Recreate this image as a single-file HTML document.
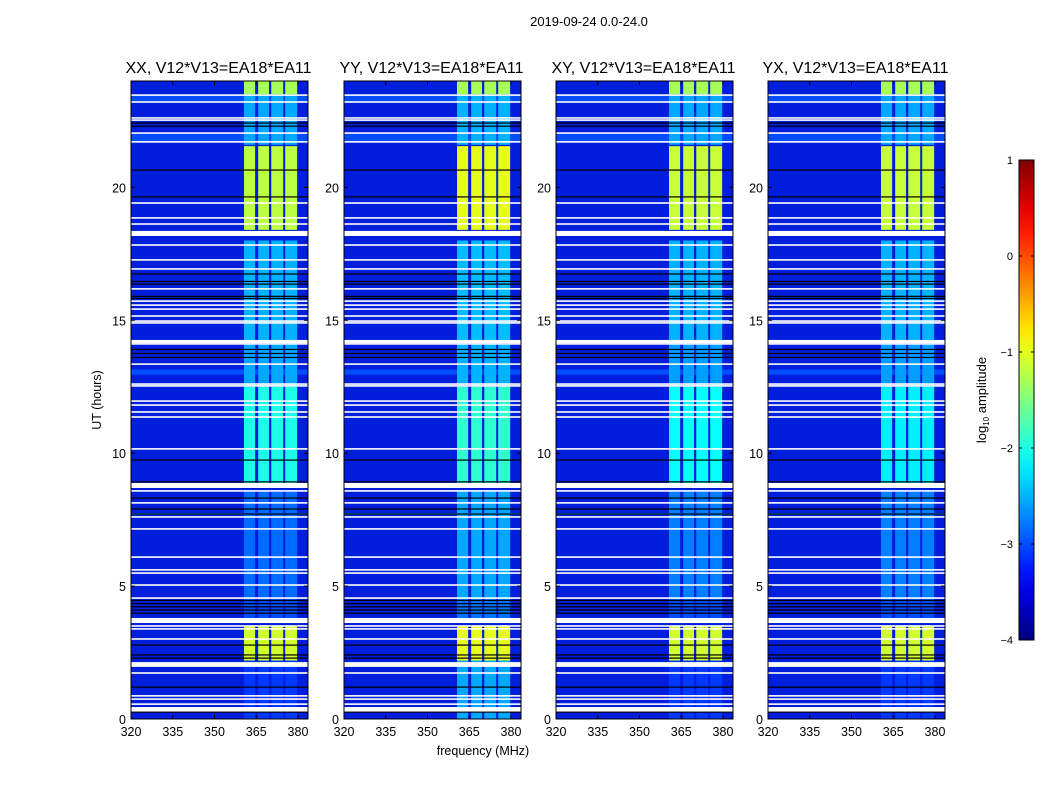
<!DOCTYPE html>
<html><head><meta charset="utf-8">
<style>
body{margin:0;background:#fff;font-family:"Liberation Sans",sans-serif;}
svg text{font-family:"Liberation Sans",sans-serif;}
</style></head>
<body>
<svg id="fig" width="1050" height="800" xmlns="http://www.w3.org/2000/svg">
<rect width="1050" height="800" fill="#fff"/>
<text x="589" y="26" font-size="13" text-anchor="middle">2019-09-24 0.0-24.0</text>
<text x="483" y="755" font-size="12.5" text-anchor="middle">frequency (MHz)</text>
<text transform="translate(101,400) rotate(-90)" font-size="12.5" text-anchor="middle">UT (hours)</text>
<g id="panels"></g>
<g id="cbar"></g>
</svg>
<script>
const panelTitles=["XX, V12*V13=EA18*EA11","YY, V12*V13=EA18*EA11","XY, V12*V13=EA18*EA11","YX, V12*V13=EA18*EA11"];
const freqTicks=[320,335,350,365,380];
const timeTicks=[0,5,10,15,20];
const freqBands=[[360.6,364.6],[365.7,369.6],[370.4,374.7],[375.4,379.7]];
const segStart=[23.5,21.6,18.4,14.2,12.5,8.8,4.5,3.8,2.2,0.0];
const segEnd=[24.0,23.5,21.55,18.0,14.1,12.5,8.6,4.5,3.5,2.2];
const segXX=[-1.3,-2.55,-1.2,-2.5,-2.55,-2.0,-2.85,-3.0,-1.1,-3.1];
const segYY=[-1.3,-2.5,-1.0,-2.45,-2.5,-1.9,-2.55,-2.8,-1.0,-2.55];
const segXY=[-1.3,-2.55,-1.15,-2.5,-2.6,-2.1,-2.75,-3.0,-1.1,-3.1];
const segYX=[-1.3,-2.55,-1.15,-2.5,-2.6,-2.2,-2.75,-3.0,-1.1,-3.1];
const backgroundLevel=-3.55;
const rfiStart=[23.2,21.7,12.95,7.68];
const rfiEnd=[23.45,22.0,13.15,7.74];
const rfiLevel=[-3.0,-3.0,-3.0,-2.4];
const flagStart=[23.47,23.21,22.61,22.53,22.04,21.71,19.41,18.85,18.62,18.17,17.83,17.27,16.93,16.18,15.72,15.57,15.42,15.16,14.97,14.90,14.14,14.11,13.35,12.60,12.53,11.96,11.81,11.55,11.36,10.16,8.69,8.58,8.13,7.60,7.15,6.09,5.61,5.49,5.04,4.55,3.61,3.50,3.39,3.01,1.96,1.73,0.87,0.75,0.56,0.28];
const flagEnd=[23.47,23.21,22.61,22.53,22.04,21.71,19.41,18.85,18.62,18.36,17.83,17.27,16.93,16.18,15.72,15.57,15.42,15.16,14.97,14.90,14.26,14.11,13.35,12.60,12.53,11.96,11.81,11.55,11.36,10.16,8.88,8.58,8.13,7.60,7.15,6.09,5.61,5.49,5.04,4.55,3.80,3.50,3.39,3.01,2.14,1.73,0.87,0.75,0.56,0.45];
const darkRows=[22.42,22.3,20.65,19.64,16.74,16.46,16.36,15.9,15.82,13.9,13.75,13.6,9.74,8.92,8.31,7.90,7.71,4.46,4.34,4.22,4.10,3.98,2.78,2.41,2.29,1.20,0.26];
const cbarTicks=[1,0,-1,-2,-3,-4];

const NS="http://www.w3.org/2000/svg";
const panelX=[131,344,556,768], PW=177, PT=81, PB=719;
const fMin=320,fMax=383.6,tMin=0,tMax=24;
function jet(v){const x=Math.max(0,Math.min(1,(v+4)/5));const c=q=>Math.round(255*Math.max(0,Math.min(1,1.5-Math.abs(4*x-q))));return `rgb(${c(3)},${Math.max(c(2),x<0.2?30:0)},${c(1)})`;}
function el(tag,attrs,parent){const e=document.createElementNS(NS,tag);for(const k in attrs)e.setAttribute(k,attrs[k]);parent.appendChild(e);return e;}
const panelsG=document.getElementById('panels');
const segSets=[segXX,segYY,segXY,segYX];
panelX.forEach((px,pi)=>{
  const xs=f=>px+(f-fMin)/(fMax-fMin)*PW;
  const ys=t=>PB-(t-tMin)/(tMax-tMin)*(PB-PT);
  const g=el('g',{},panelsG);
  
  
  const bg=el('rect',{x:px,y:PT,width:PW,height:PB-PT,fill:jet(backgroundLevel)},g);
  
  
  rfiStart.forEach((s,i)=>{const r=el('rect',{x:px,y:ys(rfiEnd[i]),width:PW,height:ys(s)-ys(rfiEnd[i]),fill:jet(rfiLevel[i])},g);
    
    });
  const sv=segSets[pi];
  segStart.forEach((s,i)=>{freqBands.forEach(b=>{
    const r=el('rect',{x:xs(b[0]),y:ys(segEnd[i]),width:xs(b[1])-xs(b[0]),height:ys(s)-ys(segEnd[i]),fill:jet(sv[i])},g);
    
    
  });});
  darkRows.forEach(t=>{const r=el('rect',{x:px,y:ys(t)-0.6,width:PW,height:1.2,fill:'#000'},g);
    
    });
  flagStart.forEach((s,i)=>{const y0=ys(flagEnd[i]),y1=ys(s);const h=Math.max(1.6,y1-y0);
    const r=el('rect',{x:px,y:(y0+y1)/2-h/2,width:PW,height:h,fill:'#fff'},g);
    
    });
  const fr=el('rect',{x:px,y:PT,width:PW,height:PB-PT,fill:'none',stroke:'#000','stroke-width':1},g);
  
  
  freqTicks.forEach(f=>{const x=xs(f);
    el('line',{x1:x,x2:x,y1:PB,y2:PB-4,stroke:'#000'},g);
    el('line',{x1:x,x2:x,y1:PT,y2:PT+4,stroke:'#000'},g);
    const t=el('text',{x:x,y:PB+17,'font-size':12.5,'text-anchor':'middle'},g);t.textContent=f;
    
    });
  timeTicks.forEach(v=>{const y=ys(v);
    el('line',{x1:px,x2:px+4,y1:y,y2:y,stroke:'#000'},g);
    el('line',{x1:px+PW,x2:px+PW-4,y1:y,y2:y,stroke:'#000'},g);
    const t=el('text',{x:px-5,y:y+5,'font-size':12.5,'text-anchor':'end'},g);t.textContent=v;
    
    });
  const tt=el('text',{x:px+PW/2-1,y:73,'font-size':16,'text-anchor':'middle'},g);tt.textContent=panelTitles[pi];
  
  
});
const cb=document.getElementById('cbar');
const CX=1019,CW=15,CT=160,CB=640;
const defs=el('defs',{},cb);
const lg=el('linearGradient',{id:'jetg',x1:0,y1:1,x2:0,y2:0},defs);
for(let i=0;i<=20;i++){const x=i/20;const c=q=>Math.round(255*Math.max(0,Math.min(1,1.5-Math.abs(4*x-q))));el('stop',{offset:x,'stop-color':`rgb(${c(3)},${c(2)},${c(1)})`},lg);}
const cr=el('rect',{x:CX,y:CT,width:CW,height:CB-CT,fill:'url(#jetg)',stroke:'#000','stroke-width':1},cb);


cbarTicks.forEach(v=>{const y=CB-(v+4)/5*(CB-CT);
  el('line',{x1:CX,x2:CX+3,y1:y,y2:y,stroke:'#000'},cb);
  el('line',{x1:CX+CW,x2:CX+CW-3,y1:y,y2:y,stroke:'#000'},cb);
  const t=el('text',{x:CX-6,y:y+4,'font-size':11,'text-anchor':'end'},cb);t.textContent=v<0?'\u2212'+(-v):v;
  
  });
const cl=el('text',{transform:'translate(986,400) rotate(-90)','font-size':13,'text-anchor':'middle'},cb);
cl.innerHTML='log<tspan font-size="8" dy="3">10</tspan><tspan dy="-3"> amplitude</tspan>';


</script>
</body></html>
